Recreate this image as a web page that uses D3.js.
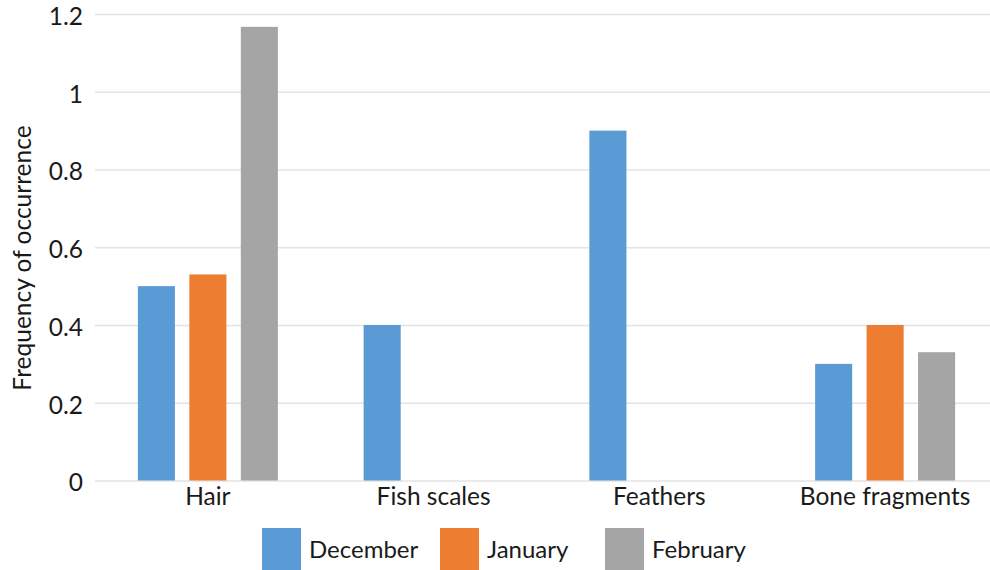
<!DOCTYPE html>
<html><head><meta charset="utf-8">
<script src="https://cdn.jsdelivr.net/npm/d3@7"></script>
<style>body{margin:0;background:#fff}svg{display:block}text{font-family:Lato,"Open Sans",sans-serif;fill:#1a1a1a}</style>
</head><body><svg id="c" width="990" height="570"></svg>
<script>
const categories = ["Hair", "Fish scales", "Feathers", "Bone fragments"];
const seriesNames = ["December", "January", "February"];
const december = [0.5, 0.4, 0.9, 0.3];
const january = [0.53, 0, 0, 0.4];
const february = [1.167, 0, 0, 0.33];
const yTicks = [0, 0.2, 0.4, 0.6, 0.8, 1, 1.2];
const colors = ["#5b9bd5", "#ed7d31", "#a5a5a5"];

const svg = d3.select("#c");
const seriesValues = [december, january, february];
const x = d3.scaleBand().domain(categories).range([95, 998]).paddingInner(0).paddingOuter(0);
const y = d3.scaleLinear().domain([0, 1.2]).range([480.5, 14]);
const xs = d3.scaleBand().domain(seriesNames).range([-70, 70]).paddingInner(0.28);

// gridlines
const yAxis = d3.axisLeft(y).tickValues(yTicks).tickSize(-(998 - 95)).tickFormat(d => d3.format("~g")(d)).tickPadding(12);
const ga = svg.append("g").attr("transform", "translate(95,0)").call(yAxis);
ga.select(".domain").remove();
ga.selectAll(".tick line").attr("stroke", "#e3e3e3").attr("stroke-width", 1.5);
ga.selectAll(".tick text").attr("font-size", 24.5).style("fill", "#1a1a1a").attr("dy", "0.42em");

// bars
categories.forEach((c, i) => {
  seriesValues.forEach((vals, s) => {
    const v = vals[i];
    if (v <= 0) return;
    svg.append("rect")
      .attr("x", x(c) + x.bandwidth() / 2 + xs(seriesNames[s]))
      .attr("width", xs.bandwidth())
      .attr("y", y(v))
      .attr("height", y(0) - y(v))
      .attr("fill", colors[s]);
  });
});

// x axis labels
const xAxis = d3.axisBottom(x).tickSize(0).tickPadding(7);
const gx = svg.append("g").attr("transform", "translate(0,480.5)").call(xAxis);
gx.select(".domain").remove();
gx.selectAll(".tick text").attr("font-size", 24.5).style("fill", "#1a1a1a");

// y title
svg.append("text").attr("transform", "translate(31,258) rotate(-90)")
  .attr("text-anchor", "middle").attr("font-size", 24.5).text("Frequency of occurrence");

// legend
const legendX = [262, 440, 605];
seriesNames.forEach((n, s) => {
  svg.append("rect").attr("x", legendX[s]).attr("y", 528).attr("width", 39).attr("height", 45).attr("fill", colors[s]);
  svg.append("text").attr("x", legendX[s] + 47).attr("y", 558).attr("font-size", 24).text(n);
});
</script></body></html>
